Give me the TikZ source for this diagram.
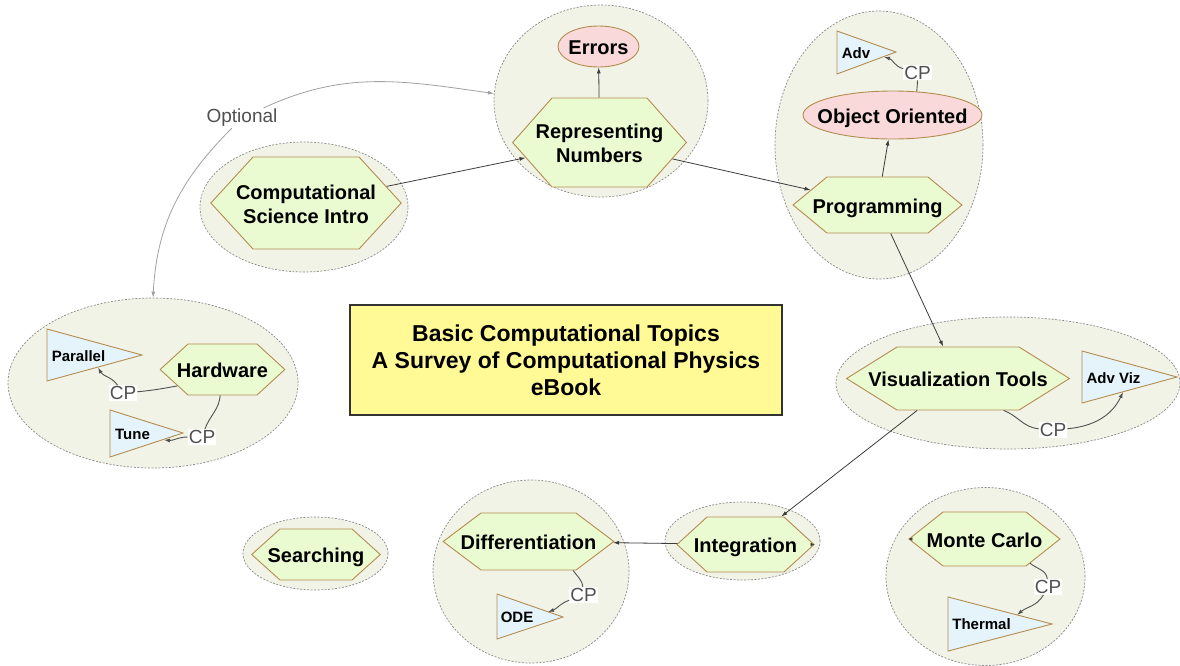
\documentclass[tikz,border=0pt]{standalone}
\usepackage{fontspec}
\setmainfont{Liberation Sans}
\usetikzlibrary{shapes.geometric,shapes.symbols,arrows.meta}
\definecolor{clfill}{HTML}{F2F3E7}
\definecolor{cldraw}{HTML}{8A8A8A}
\definecolor{hexfill}{HTML}{EAFBD2}
\definecolor{hexdraw}{HTML}{B48C50}
\definecolor{ovfill}{HTML}{F9D9D9}
\definecolor{trifill}{HTML}{E4F4FA}
\definecolor{conncol}{HTML}{3C3C3C}
\definecolor{cpcol}{HTML}{505050}
\definecolor{optcol}{HTML}{A0A0A0}
\definecolor{titlefill}{HTML}{FFFA96}
\definecolor{titledraw}{HTML}{333333}
\newcommand\zw[1]{\makebox[0pt][c]{\raisebox{-8.5pt}[0pt][0pt]{\begin{tabular}{@{}c@{}}#1\end{tabular}}}}
\begin{document}
\begin{tikzpicture}[x=1pt,y=-1pt,
  cluster/.style={ellipse, draw=cldraw, fill=clfill, dash pattern=on 2pt off 1.5pt, line width=0.7pt, inner sep=0pt},
  hexn/.style={signal, signal to=west and east, draw=hexdraw, fill=hexfill, line width=0.9pt, inner ysep=0pt, font=\bfseries\fontsize{20}{24}\selectfont},
  ovaln/.style={ellipse, draw=hexdraw, fill=ovfill, line width=0.9pt, inner sep=0pt, font=\bfseries\fontsize{20}{24}\selectfont},
  tri/.style={draw=hexdraw, fill=trifill, line width=0.9pt, line join=miter},
  trilab/.style={font=\bfseries\fontsize{15}{15}\selectfont, inner sep=0pt},
  conn/.style={draw=conncol, line width=0.8pt, -{Latex[length=6pt,width=4pt]}},
  tinyarr/.style={draw=conncol, line width=0.6pt, -{Latex[length=4pt,width=3.5pt]}},
  cpc/.style={draw=cpcol, line width=0.9pt},
  cparr/.style={draw=cpcol, line width=0.9pt, -{Latex[length=6pt,width=4pt]}},
  cplab/.style={fill=white, inner sep=1pt, text=cpcol, font=\fontsize{19}{19}\selectfont},
  optc/.style={draw=optcol, line width=0.8pt}
]
\useasboundingbox (0,0) rectangle (1180,665);

% clusters
\node[cluster, minimum width=208pt, minimum height=130pt] (csicl) at (304,207) {};
\node[cluster, minimum width=214pt, minimum height=192pt] (rncl) at (601,101) {};
\node[cluster, minimum width=208pt, minimum height=268pt] (progcl) at (879,145) {};
\node[cluster, minimum width=290pt, minimum height=170pt] (hwcl) at (153,383) {};
\node[cluster, minimum width=344pt, minimum height=132pt] (viscl) at (1008,383) {};
\node[cluster, minimum width=155pt, minimum height=78pt] (intcl) at (742.5,541) {};
\node[cluster, minimum width=196pt, minimum height=183pt] (diffcl) at (531,571.5) {};
\node[cluster, minimum width=199pt, minimum height=178pt] (mccl) at (985.5,576.5) {};
\node[cluster, minimum width=145pt, minimum height=73pt] (searchcl) at (315.5,553.5) {};

% hexagon topics
\node[hexn, inner xsep=53pt, minimum height=92pt, signal pointer angle=95] (csi) at (306,203) {\zw{Computational\\Science Intro}};
\node[hexn, inner xsep=47.5pt, minimum height=89pt, signal pointer angle=97] (rn) at (599.5,142.5) {\zw{Representing\\Numbers}};
\node[hexn, inner xsep=50.5pt, minimum height=56pt, signal pointer angle=79] (prog) at (877.5,205) {\zw{Programming}};
\node[hexn, inner xsep=34.5pt, minimum height=51pt, signal pointer angle=85] (hw) at (222.5,369.5) {\zw{Hardware}};
\node[hexn, inner xsep=61pt, minimum height=63pt, signal pointer angle=64] (vis) at (958,378.5) {\zw{Visualization Tools}};
\node[hexn, inner xsep=38.5pt, minimum height=55pt, signal pointer angle=85] (int) at (745.5,544.5) {\zw{Integration}};
\node[hexn, inner xsep=47.5pt, minimum height=57pt, signal pointer angle=74] (diff) at (528.5,541.5) {\zw{Differentiation}};
\node[hexn, inner xsep=41.5pt, minimum height=54pt, signal pointer angle=77] (mc) at (984.5,539) {\zw{Monte Carlo}};
\node[hexn, inner xsep=36pt, minimum height=51pt, signal pointer angle=84] (search) at (316,554.5) {\zw{Searching}};

% ovals
\node[ovaln, minimum width=81pt, minimum height=41pt] (err) at (598.5,46.5) {\zw{Errors}};
\node[ovaln, minimum width=179pt, minimum height=48pt] (oo) at (892.5,115) {\zw{Object Oriented}};

% triangles
\coordinate (parA) at (47,329); \coordinate (parT) at (142,355); \coordinate (parB) at (47,381);
\draw[tri] (parA) -- (parT) -- (parB) -- cycle;
\node[trilab] (par) at (78.5,356) {Parallel};
\coordinate (tunA) at (110,410); \coordinate (tunT) at (183,433); \coordinate (tunB) at (110,457);
\draw[tri] (tunA) -- (tunT) -- (tunB) -- cycle;
\node[trilab] (tune) at (132.5,434) {Tune};
\coordinate (advA) at (837,31); \coordinate (advT) at (896,52); \coordinate (advB) at (837,74);
\draw[tri] (advA) -- (advT) -- (advB) -- cycle;
\node[trilab] (adv) at (856,53) {Adv};
\coordinate (avA) at (1082,351); \coordinate (avT) at (1177,377); \coordinate (avB) at (1082,403);
\draw[tri] (avA) -- (avT) -- (avB) -- cycle;
\node[trilab] (advviz) at (1113.5,378) {Adv Viz};
\coordinate (odeA) at (497,594); \coordinate (odeT) at (563,617); \coordinate (odeB) at (497,639);
\draw[tri] (odeA) -- (odeT) -- (odeB) -- cycle;
\node[trilab] (ode) at (517,617) {ODE};
\coordinate (thA) at (948,597); \coordinate (thT) at (1052,624); \coordinate (thB) at (948,651);
\draw[tri] (thA) -- (thT) -- (thB) -- cycle;
\node[trilab] (thermal) at (981.5,624) {Thermal};

% title
\node[draw=titledraw, fill=titlefill, line width=1.5pt, minimum width=432pt, minimum height=110pt, align=center, font=\bfseries\fontsize{23}{27}\selectfont] (title) at (566,360) {Basic Computational Topics\\A Survey of Computational Physics\\eBook};

% main connectors
\draw[conn] (csi) -- (rn);
\draw[conn] (rn) -- (prog);
\draw[conn] (rn) -- (err);
\draw[conn] (prog) -- (oo);
\draw[conn] (prog) -- (vis);
\draw[conn] (vis) -- (int);
\draw[conn] (int) -- (diff);
\draw[tinyarr] ([xshift=-3pt]int.east) -- (int.east);
\draw[tinyarr] ([xshift=3pt]mc.west) -- (mc.west);

% CP connectors
\coordinate (parE) at (98,367.5);
\coordinate (tuneE) at (164,440);
\coordinate (advE) at (884,57);
\coordinate (avE) at (1123,392);
\coordinate (odeE) at (548,612);
\coordinate (thE) at (1017,615);

\node[cplab] (cp1) at (123,393) {CP};
\draw[cpc] (hw.200) to[out=190,in=5] (cp1);
\draw[cparr] (cp1) to[out=125,in=-60] (parE);

\node[cplab] (cp2) at (202,437) {CP};
\draw[cpc] (hw.-95) to[out=-95,in=70] (cp2);
\draw[cparr] (cp2) to[out=180,in=-5] (tuneE);

\node[cplab] (cp3) at (917.5,72.5) {CP};
\draw[cpc] (oo.44) to[out=90,in=-90] (cp3);
\draw[cparr] (cp3) to[out=165,in=-15] (advE);

\node[cplab] (cp4) at (1053,430) {CP};
\draw[cpc] (vis.-35) to[out=-20,in=175] (cp4);
\draw[cparr] (cp4) to[out=5,in=-115] (avE);

\node[cplab] (cp5) at (583.5,595) {CP};
\draw[cpc] (diff.-33) to[out=-55,in=95] (cp5);
\draw[cparr] (cp5) to[out=200,in=20] (odeE);

\node[cplab] (cp6) at (1048,587) {CP};
\draw[cpc] (mc.-28) to[out=-40,in=95] (cp6);
\draw[cparr] (cp6) to[out=-120,in=40] (thE);

% optional
\node[cplab] (opt) at (242,118) {Optional};
\draw[optc, {Latex[length=6pt,width=4pt]}-] (hwcl.north) to[out=87,in=-135] (opt);
\draw[optc, -{Latex[length=6pt,width=4pt]}] (opt) to[out=25,in=172] (rncl.176);
\end{tikzpicture}
\end{document}
